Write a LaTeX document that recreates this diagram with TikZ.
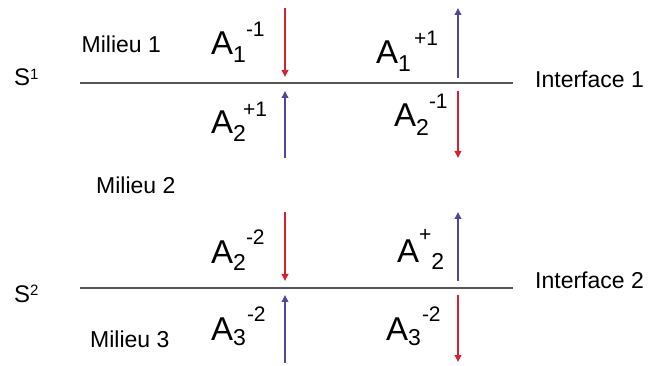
\documentclass[tikz,border=0pt]{standalone}
\usepackage{fontspec}
\setmainfont{Liberation Sans}
\usetikzlibrary{arrows.meta}
\definecolor{arrred}{RGB}{214,34,46}
\definecolor{arrblue}{RGB}{78,72,150}
\definecolor{linegray}{RGB}{85,85,85}
\newcommand{\Alab}[4]{\fontsize{33}{33}\selectfont A\raisebox{-#3pt}{\fontsize{23}{23}\selectfont #1}\raisebox{#4pt}{\fontsize{21}{21}\selectfont #2}}
\newcommand{\Sfig}[1]{\fontsize{24}{24}\selectfont S\raisebox{6pt}{\fontsize{15}{15}\selectfont #1}}
\begin{document}
\begin{tikzpicture}[x=1pt,y=-1pt,
  lbl/.style={inner sep=0pt,anchor=base west,font=\fontsize{23}{23}\selectfont},
  alabel/.style={inner sep=0pt,anchor=base west},
  iface/.style={draw=linegray,line width=1.4pt},
  downarr/.style={draw=arrred,line width=1.8pt,-{Triangle[width=6.5pt,length=7pt]}},
  uparr/.style={draw=arrblue,line width=1.8pt,-{Triangle[width=6.5pt,length=7pt]}}]
\useasboundingbox (0,0) rectangle (651,366);
\fill[white] (0,0) rectangle (651,366);

% interfaces
\coordinate (l1a) at (80,83);
\coordinate (l1b) at (513,83);
\coordinate (l2a) at (80,288);
\coordinate (l2b) at (513,288);
\draw[iface] (l1a) -- (l1b);
\draw[iface] (l2a) -- (l2b);

% side labels
\node[lbl] (m1) at (81.5,53) {Milieu 1};
\node[lbl] (m2) at (96,194) {Milieu 2};
\node[lbl] (m3) at (90,347) {Milieu 3};
\node[lbl] (i1) at (535,88) {Interface 1};
\node[lbl] (i2) at (535,289) {Interface 2};
\node[alabel] (s1) at (14,86) {\Sfig{1}};
\node[alabel] (s2) at (14,302) {\Sfig{2}};

% amplitude labels
\node[alabel] (a1) at (211,55) {\Alab{1}{-1}{8}{18}};
\node[alabel] (a2) at (376,64) {\Alab{1}{\hspace{3pt}+1}{8}{18}};
\node[alabel] (a3) at (211,134) {\Alab{2}{\hspace{-3pt}+1}{8}{17}};
\node[alabel] (a4) at (394,127) {\Alab{2}{-1}{9}{18}};
\node[alabel] (a5) at (211,264) {\Alab{2}{-2}{7}{19}};
\node[alabel] (a6) at (397,263) {\fontsize{33}{33}\selectfont A\raisebox{21pt}{\fontsize{21}{21}\selectfont +}\raisebox{-6pt}{\fontsize{23}{23}\selectfont 2}};
\node[alabel] (a7) at (211,341) {\Alab{3}{\hspace{1pt}-2}{5}{19}};
\node[alabel] (a8) at (386,341) {\Alab{3}{\hspace{1pt}-2}{5}{19}};

% arrows
\coordinate (p1s) at (285,8);   \coordinate (p1e) at (285,77);
\coordinate (p2s) at (458,78);  \coordinate (p2e) at (458,8);
\coordinate (p3s) at (285,158); \coordinate (p3e) at (285,91);
\coordinate (p4s) at (458,91);  \coordinate (p4e) at (458,158);
\coordinate (p5s) at (285,212); \coordinate (p5e) at (285,281);
\coordinate (p6s) at (458,281); \coordinate (p6e) at (458,212);
\coordinate (p7s) at (285,363); \coordinate (p7e) at (285,295);
\coordinate (p8s) at (458,295); \coordinate (p8e) at (458,362);
\draw[downarr] (p1s) -- (p1e);
\draw[uparr] (p2s) -- (p2e);
\draw[uparr] (p3s) -- (p3e);
\draw[downarr] (p4s) -- (p4e);
\draw[downarr] (p5s) -- (p5e);
\draw[uparr] (p6s) -- (p6e);
\draw[uparr] (p7s) -- (p7e);
\draw[downarr] (p8s) -- (p8e);
\end{tikzpicture}
\end{document}
